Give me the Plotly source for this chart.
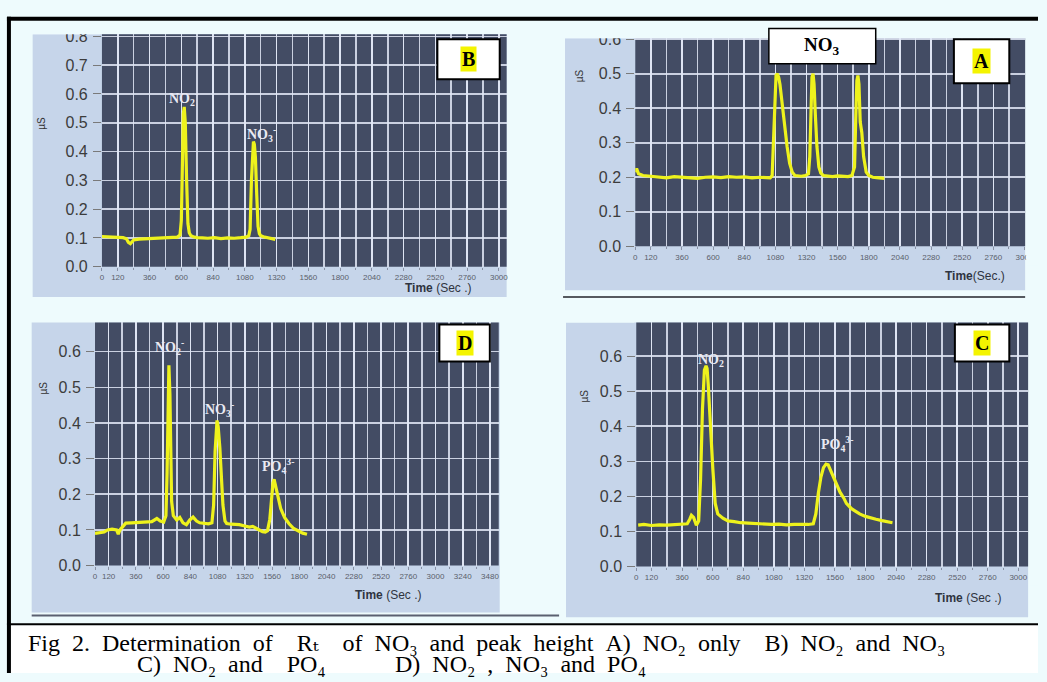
import plotly.graph_objects as go

W, H = 1047, 682

# ---------------- data (time in seconds, conductivity in uS) ----------------
B_time = [0, 40, 80, 120, 160, 185, 200, 215, 240, 280, 330, 380, 430, 480, 530, 570, 590, 600, 608, 615,
          622, 630, 640, 650, 660, 672, 690, 720, 760, 800, 850, 900, 950, 1000, 1050, 1090, 1110, 1120, 1130, 1138,
          1145, 1152, 1160, 1170, 1180, 1190, 1200, 1220, 1250, 1280, 1300, 1310]
B_val = [0.105, 0.104, 0.102, 0.103, 0.101, 0.097, 0.085, 0.080, 0.093, 0.096, 0.097, 0.098, 0.099, 0.100, 0.101, 0.103, 0.110, 0.160, 0.350, 0.530,
         0.555, 0.500, 0.300, 0.150, 0.118, 0.108, 0.104, 0.101, 0.100, 0.099, 0.101, 0.098, 0.100, 0.099, 0.101, 0.103, 0.108, 0.130, 0.300, 0.420,
         0.435, 0.425, 0.380, 0.250, 0.140, 0.115, 0.108, 0.104, 0.101, 0.099, 0.097, 0.095]

A_time = [0, 10, 25, 60, 120, 180, 240, 300, 360, 420, 480, 540, 600, 660, 720, 780, 840, 900, 960, 1010,
          1040, 1055, 1065, 1075, 1085, 1095, 1105, 1115, 1130, 1150, 1170, 1190, 1210, 1230, 1250, 1280, 1310, 1335, 1345, 1355,
          1362, 1370, 1378, 1388, 1400, 1415, 1430, 1450, 1480, 1520, 1560, 1600, 1640, 1670, 1690, 1700, 1708, 1716, 1724, 1734,
          1746, 1760, 1780, 1800, 1830, 1860, 1890, 1920]
A_val = [0.215, 0.225, 0.210, 0.205, 0.203, 0.200, 0.198, 0.202, 0.200, 0.199, 0.197, 0.200, 0.201, 0.199, 0.202, 0.200, 0.201, 0.198, 0.200, 0.199,
         0.198, 0.205, 0.300, 0.450, 0.495, 0.500, 0.490, 0.470, 0.420, 0.350, 0.290, 0.240, 0.215, 0.205, 0.204, 0.203, 0.205, 0.210, 0.260, 0.420,
         0.490, 0.500, 0.470, 0.380, 0.290, 0.230, 0.212, 0.205, 0.203, 0.202, 0.204, 0.203, 0.202, 0.205, 0.230, 0.380, 0.480, 0.495, 0.470, 0.360,
         0.330, 0.260, 0.215, 0.205, 0.200, 0.199, 0.198, 0.197]

D_time = [0, 40, 80, 110, 150, 190, 205, 220, 250, 271, 320, 380, 440, 500, 545, 575, 605, 625, 635, 643,
          651, 660, 668, 675, 690, 720, 747, 775, 805, 835, 864, 895, 922, 960, 1000, 1030, 1045, 1058, 1068, 1075,
          1085, 1100, 1115, 1127, 1145, 1160, 1200, 1240, 1272, 1320, 1360, 1389, 1430, 1476, 1500, 1520, 1540, 1555, 1568, 1578,
          1590, 1610, 1636, 1670, 1708, 1750, 1795, 1830, 1868]
D_val = [0.090, 0.092, 0.094, 0.100, 0.102, 0.100, 0.088, 0.100, 0.112, 0.119, 0.120, 0.121, 0.122, 0.123, 0.132, 0.125, 0.122, 0.140, 0.260, 0.480,
         0.562, 0.480, 0.300, 0.180, 0.140, 0.128, 0.135, 0.120, 0.115, 0.128, 0.136, 0.125, 0.120, 0.118, 0.117, 0.120, 0.170, 0.320, 0.395, 0.407,
         0.390, 0.330, 0.240, 0.170, 0.125, 0.118, 0.116, 0.115, 0.115, 0.111, 0.108, 0.110, 0.102, 0.095, 0.094, 0.098, 0.130, 0.190, 0.232, 0.242,
         0.225, 0.190, 0.160, 0.135, 0.118, 0.104, 0.096, 0.091, 0.088]

C_time = [15, 60, 120, 180, 240, 300, 360, 400, 420, 433, 450, 472, 490, 505, 520, 535, 548, 556, 565, 580,
          601, 620, 640, 680, 720, 769, 820, 880, 940, 1000, 1060, 1120, 1180, 1240, 1300, 1350, 1390, 1410, 1430, 1450,
          1470, 1490, 1507, 1525, 1545, 1572, 1600, 1630, 1650, 1690, 1720, 1754, 1800, 1850, 1883, 1930, 1970, 2012]
C_val = [0.118, 0.120, 0.117, 0.119, 0.118, 0.120, 0.121, 0.122, 0.135, 0.146, 0.140, 0.118, 0.130, 0.250, 0.450, 0.560, 0.572, 0.565, 0.520, 0.400,
         0.280, 0.180, 0.150, 0.138, 0.130, 0.128, 0.125, 0.124, 0.122, 0.121, 0.120, 0.121, 0.119, 0.120, 0.119, 0.120, 0.122, 0.150, 0.210, 0.255,
         0.282, 0.292, 0.290, 0.275, 0.255, 0.235, 0.212, 0.195, 0.180, 0.165, 0.157, 0.150, 0.143, 0.137, 0.135, 0.131, 0.128, 0.125]

X_LABELS = [0, 120, 360, 600, 840, 1080, 1320, 1560, 1800, 2040, 2280, 2520, 2760, 3000]
X_LABELS_D = X_LABELS + [3240, 3480]
X_GRID_STEP = 120
Y_TICKS_B = [0.0, 0.1, 0.2, 0.3, 0.4, 0.5, 0.6, 0.7, 0.8]
Y_TICKS_A = [0.0, 0.1, 0.2, 0.3, 0.4, 0.5, 0.6]
Y_TICKS_D = [0.0, 0.1, 0.2, 0.3, 0.4, 0.5, 0.6]
Y_TICKS_C = [0.0, 0.1, 0.2, 0.3, 0.4, 0.5, 0.6, 0.7]

NO2 = "NO<sub>2</sub><sup>-</sup>"
NO3 = "NO<sub>3</sub><sup>-</sup>"
PO4 = "PO<sub>4</sub><sup>3-</sup>"

CAPTION_1 = "Fig 2. Determination of  R\u209c  of NO\u2083 and peak height A) NO\u2082 only  B) NO\u2082 and NO\u2083"
CAPTION_2C = "C) NO\u2082 and  PO\u2084"
CAPTION_2D = "D) NO\u2082 , NO\u2083 and PO\u2084"

# ---------------- styling ----------------
BG = "#eefbfd"
BOX = "#c6d5ea"
PLOT = "#434c64"
GRID = "rgba(226,231,246,0.85)"
TRACE = "#eef21c"
SANS = "Liberation Sans, Arial, sans-serif"
SERIF = "Liberation Serif, Times New Roman, DejaVu Serif, serif"


def fx(x):
    return x / W


def fy(y):
    return 1 - y / H


def label(x, y, text, font, **kw):
    d = dict(x=fx(x), y=fy(y), xref="paper", yref="paper", text=text, showarrow=False,
             xanchor="center", yanchor="middle", font=font)
    d.update(kw)
    return d


def spaced(s):
    # widen word gaps a little (the scanned caption is horizontally stretched)
    return s.replace("  ", "\u00a0\u00a0\u00a0\u00a0").replace(" ", "\u00a0\u00a0")


panels = [
    # letter, t, v, yticks, xlabels, plot px box (x0,y0,x1,y1), xmax, ymax, outer box
    ("B", B_time, B_val, Y_TICKS_B, X_LABELS, (101, 28, 510, 266), 3059, 0.807, (31, 28, 510, 297)),
    ("A", A_time, A_val, Y_TICKS_A, X_LABELS, (640, 32, 1034, 245), 3005, 0.603, (569, 32, 1034, 290)),
    ("D", D_time, D_val, Y_TICKS_D, X_LABELS_D, (94, 323, 502, 572), 3557, 0.682, (30, 323, 503, 620)),
    ("C", C_time, C_val, Y_TICKS_C, X_LABELS, (641, 323, 1037, 573), 3077, 0.696, (570, 323, 1037, 625)),
]

fig = go.Figure()
shapes = []
annotations = []
layout = {}

# caption background
shapes.append(dict(type="rect", xref="paper", yref="paper", x0=fx(9), x1=1, y0=0, y1=fy(633),
                   fillcolor="white", line=dict(width=0), layer="below"))

for i, (key, t, v, yt, xl, pbox, xmax, ymax, obox) in enumerate(panels):
    sfx = "" if i == 0 else str(i + 1)
    xid, yid = "x" + sfx, "y" + sfx
    x0, y0, x1, y1 = pbox
    # outer light box
    shapes.append(dict(type="rect", xref="paper", yref="paper",
                       x0=fx(obox[0]), x1=fx(obox[2]), y0=fy(obox[3]), y1=fy(obox[1]),
                       fillcolor=BOX, line=dict(width=0), layer="below"))
    # dark plotting area
    shapes.append(dict(type="rect", xref="paper", yref="paper",
                       x0=fx(x0), x1=fx(x1), y0=fy(y1), y1=fy(y0),
                       fillcolor=PLOT, line=dict(width=0), layer="below"))

    n = int(xmax // X_GRID_STEP)
    grid_vals = [X_GRID_STEP * k for k in range(n + 1)]

    layout["xaxis" + sfx] = dict(
        domain=[fx(x0), fx(x1)], range=[0, xmax], anchor=yid,
        tickmode="array", tickvals=xl, ticktext=[str(val) for val in xl], tickangle=0,
        tickfont=dict(family=SANS, size=8, color="#5a5f6b"),
        ticks="outside", ticklen=3, tickcolor="#8890a4",
        showgrid=True, gridcolor=GRID, gridwidth=1.6,
        minor=dict(tickmode="array", tickvals=grid_vals, showgrid=True, gridcolor=GRID,
                   gridwidth=1.6, ticks="outside", ticklen=2, tickcolor="#8890a4"),
        showline=False, zeroline=False, fixedrange=True)
    layout["yaxis" + sfx] = dict(
        domain=[fy(y1), fy(y0)], range=[0, ymax], anchor=xid,
        tickmode="array", tickvals=yt, ticktext=[f"{val:.1f}" for val in yt],
        tickfont=dict(family=SANS, size=16, color="#3c3c3c"),
        ticks="outside", ticklen=8, tickcolor="#7a7a7a", ticklabelstandoff=2,
        showgrid=True, gridcolor=GRID, gridwidth=1.6,
        showline=False, zeroline=False, fixedrange=True)

    fig.add_trace(go.Scatter(x=t, y=v, mode="lines", xaxis=xid, yaxis=yid,
                             line=dict(color=TRACE, width=3.2), hoverinfo="skip", showlegend=False))

# micro-siemens labels (rotated)
for (ux, uy) in [(40, 119), (583, 70), (42, 390), (589, 398)]:
    annotations.append(label(ux, uy, "\u00b5S", dict(family=SANS, size=10, color="#333"), textangle=-90))

# Time axis captions
for (tx, ty, txt) in [(441, 288, "<b>Time</b> (Sec .)"), (983, 275, "<b>Time</b>(Sec.)"),
                      (390, 602, "<b>Time</b> (Sec .)"), (976, 605, "<b>Time</b> (Sec .)")]:
    annotations.append(label(tx, ty, txt, dict(family=SANS, size=12, color="#2f3440")))

# peak labels
for (lx, ly, txt) in [(183, 93, NO2), (262, 130, NO3),
                      (169, 348, NO2), (220, 412, NO3), (279, 470, PO4),
                      (718, 360, NO2), (844, 447, PO4)]:
    annotations.append(label(lx, ly, "<b>" + txt + "</b>", dict(family=SERIF, size=14, color="#e9e9f2")))

# letter boxes
for (letter, bx0, by0, bx1, by1) in [("B", 440, 33, 503, 74), ("A", 962, 33, 1018, 78),
                                      ("D", 442, 325, 493, 363), ("C", 963, 325, 1018, 363)]:
    shapes.append(dict(type="rect", xref="paper", yref="paper", x0=fx(bx0), x1=fx(bx1),
                       y0=fy(by1), y1=fy(by0), fillcolor="white", line=dict(color="black", width=2),
                       layer="above"))
    annotations.append(label((bx0 + bx1) / 2, (by0 + by1) / 2, "<b>" + letter + "</b>",
                             dict(family=SERIF, size=20, color="black"), bgcolor="#f4f400", borderpad=1))

# NO3 title box in panel A
shapes.append(dict(type="rect", xref="paper", yref="paper", x0=fx(775), x1=fx(883), y0=fy(58), y1=fy(22),
                   fillcolor="white", line=dict(color="black", width=1.5), layer="above"))
annotations.append(label(829, 40, "<b>NO<sub>3</sub></b>", dict(family=SERIF, size=19, color="black")))

# covers that clip the outermost tick labels as in the scanned figure
for (cx0, cy0, cx1, cy1) in [(18, 14, 99, 28), (560, 14, 638, 32), (560, 300, 639, 323),
                             (1035, 246, 1047, 265), (1038, 574, 1047, 592)]:
    shapes.append(dict(type="rect", xref="paper", yref="paper", x0=fx(cx0), x1=fx(cx1),
                       y0=fy(cy1), y1=fy(cy0), fillcolor=BG, line=dict(width=0), layer="above"))

# frame lines
frame = [
    (5, 12, 1047, 12, "black", 4),
    (7, 10, 7, 682, "black", 4),
    (5, 632, 1047, 632, "black", 2),
    (567, 297, 1034, 297, "#55595f", 2),
    (30, 623, 563, 623, "#5a6070", 2),
]
for (lx0, ly0, lx1, ly1, col, wd) in frame:
    shapes.append(dict(type="line", xref="paper", yref="paper", x0=fx(lx0), x1=fx(lx1),
                       y0=fy(ly0), y1=fy(ly1), line=dict(color=col, width=wd), layer="above"))

# caption
CAP = dict(family=SERIF, size=24, color="black")
annotations.append(label(24, 651, spaced(CAPTION_1), CAP, xanchor="left"))
annotations.append(label(134, 673, spaced(CAPTION_2C), CAP, xanchor="left"))
annotations.append(label(395, 673, spaced(CAPTION_2D), CAP, xanchor="left"))

fig.update_layout(width=W, height=H, margin=dict(l=0, r=0, t=0, b=0),
                  paper_bgcolor=BG, plot_bgcolor="rgba(0,0,0,0)",
                  showlegend=False, shapes=shapes, annotations=annotations, **layout)

fig.write_html("out.html", config={"displayModeBar": False, "staticPlot": True},
               post_script="document.body.style.margin='0px';document.body.style.overflow='hidden';")
